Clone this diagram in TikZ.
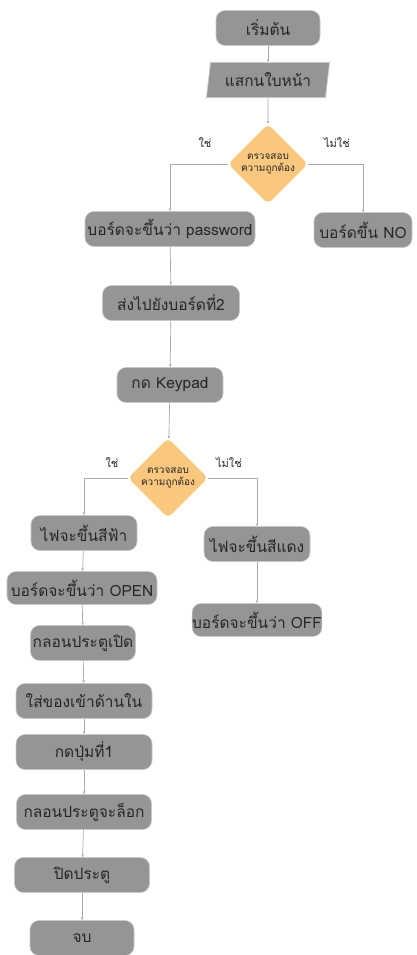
\documentclass[tikz,border=0pt]{standalone}
\usepackage{fontspec}
\setmainfont[Script=Thai]{Loma}
\usetikzlibrary{shapes.geometric,arrows.meta}

\definecolor{boxgray}{HTML}{959595}
\definecolor{boxedge}{HTML}{C8C8C8}
\definecolor{decorange}{HTML}{F9C77E}
\definecolor{linegray}{HTML}{ABABAB}
\definecolor{txtdark}{HTML}{262626}

\begin{document}
\begin{tikzpicture}[x=1pt, y=-1pt, font=\fontsize{15.5}{18}\selectfont,
  proc/.style={rectangle, rounded corners=9pt, fill=boxgray, draw=boxedge, line width=0.6pt,
    text=txtdark, inner sep=0pt, minimum height=35pt},
  io/.style={trapezium, trapezium left angle=74, trapezium right angle=106,
    trapezium stretches body, fill=boxgray, draw=boxedge, line width=0.6pt,
    text=txtdark, inner sep=0pt, minimum height=35pt, minimum width=123pt},
  dec/.style={diamond, shape aspect=1, rounded corners=5pt, fill=decorange,
    inner sep=0pt, minimum size=80pt, align=center, text=txtdark,
    font=\fontsize{10}{12.5}\selectfont},
  lbl/.style={font=\fontsize{11}{13}\selectfont, text=txtdark},
  flow/.style={draw=linegray, line width=0.7pt, -{Stealth[length=3pt,width=2.5pt]}}]

\useasboundingbox (0,0) rectangle (416,955);

% top part
\node[proc, minimum width=104pt] (start) at (268,28) {เริ่มต้น};
\node[io] (scan) at (268,80) {แสกนใบหน้า};
\node[dec] (chk1) at (268,164) {ตรวจสอบ\\ความถูกต้อง};
\node[lbl] at (205,143) {ใช่};
\node[lbl] at (337,143) {ไม่ใช่};
\node[proc, minimum width=170pt] (pw) at (170,229) {บอร์ดจะขึ้นว่า password};
\node[proc, minimum width=98pt] (no) at (363,230) {บอร์ดขึ้น NO};
\node[proc, minimum width=137pt] (send) at (171,303) {ส่งไปยังบอร์ดที่2};
\node[proc, minimum width=106pt] (keypad) at (170,385) {กด Keypad};

% second check
\node[dec] (chk2) at (168,478) {ตรวจสอบ\\ความถูกต้อง};
\node[lbl] at (112,463) {ใช่};
\node[lbl] at (229,463) {ไม่ใช่};
\node[proc, minimum width=106pt] (blue) at (84,533) {ไฟจะขึ้นสีฟ้า};
\node[proc, minimum width=106pt] (red) at (257,544) {ไฟจะขึ้นสีแดง};
\node[proc, minimum width=150pt, minimum height=33pt] (open) at (82,588) {บอร์ดจะขึ้นว่า OPEN};
\node[proc, minimum width=129pt, minimum height=33pt] (off) at (257,620) {บอร์ดจะขึ้นว่า OFF};
\node[proc, minimum width=105pt] (unlock) at (83,643) {กลอนประตูเปิด};
\node[proc, minimum width=136pt] (putin) at (84,701) {ใส่ของเข้าด้านใน};
\node[proc, minimum width=136pt] (button) at (84,752) {กดปุ่มที่1};
\node[proc, minimum width=135pt] (lock) at (84,812) {กลอนประตูจะล็อก};
\node[proc, minimum width=135pt] (close) at (82,875) {ปิดประตู};
\node[proc, minimum width=104pt] (stop) at (82,938) {จบ};

% connectors
\draw[flow] (start) -- (scan);
\draw[flow] (scan) -- (chk1);
\draw[flow] (chk1.west) -| (pw.north);
\draw[flow] (chk1.east) -| (no.north);
\draw[flow] (pw) -- (send);
\draw[flow] (send) -- (keypad);
\draw[flow] (keypad) -- (chk2);
\draw[flow] (chk2.west) -| (blue.north);
\draw[flow] (chk2.east) -| (red.north);
\draw[flow] (red) -- (off);
\draw[flow] (blue) -- (open);
\draw[flow] (open) -- (unlock);
\draw[flow] (unlock) -- (putin);
\draw[flow] (putin) -- (button);
\draw[flow] (button) -- (lock);
\draw[flow] (lock) -- (close);
\draw[flow] (close) -- (stop);

\end{tikzpicture}
\end{document}
